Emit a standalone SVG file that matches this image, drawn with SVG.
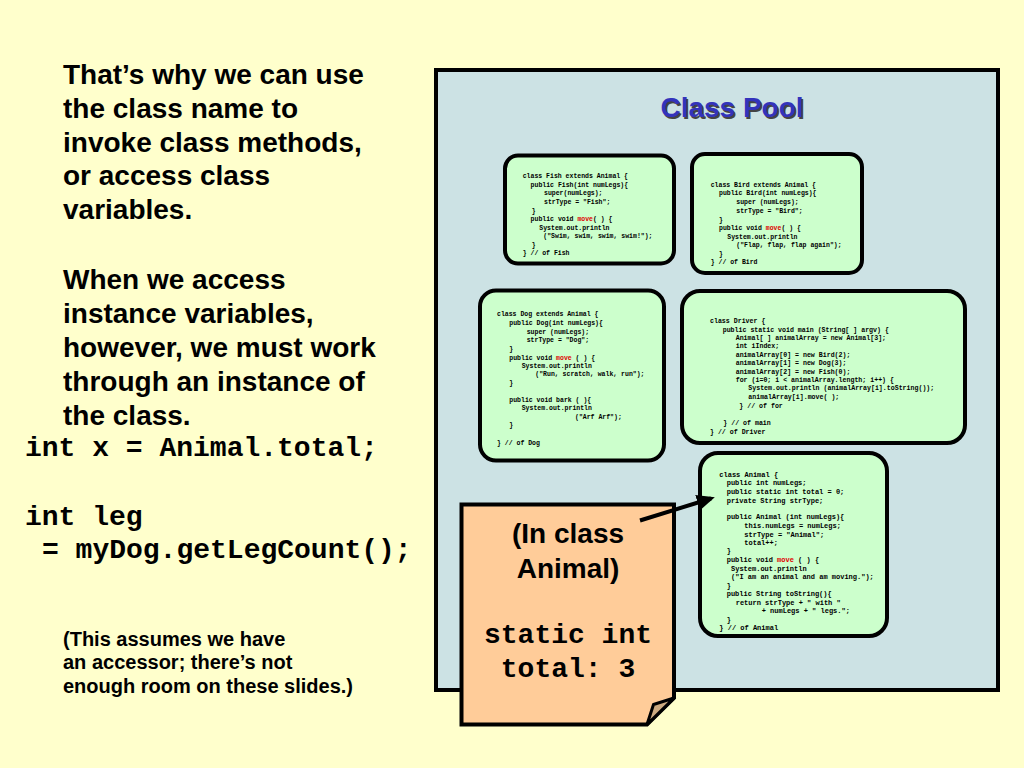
<svg xmlns="http://www.w3.org/2000/svg" width="1024" height="768" viewBox="0 0 1024 768">
<defs>
<style>
.t{font-family:"Liberation Sans",Arial,sans-serif;font-weight:bold;fill:#000}
.m{font-family:"Liberation Mono","Courier New",monospace;font-weight:bold;fill:#000}
.c{font-family:"Liberation Mono","Courier New",monospace;font-weight:bold;fill:#000}
.box{fill:#CCFFCC;stroke:#000;stroke-width:4}
.r{fill:#E00000}
</style>
<marker id="ah" markerWidth="4.5" markerHeight="4" refX="3.5" refY="2" orient="auto" markerUnits="strokeWidth">
<path d="M0,0 L4.5,2 L0,4 Z" fill="#000"/>
</marker>
</defs>
<rect x="0" y="0" width="1024" height="768" fill="#FFFFCC"/>

<g id="left-text">
<text class="t" font-size="28" x="63" y="84">That’s why we can use</text>
<text class="t" font-size="28" x="63" y="118">the class name to</text>
<text class="t" font-size="28" x="63" y="152">invoke class methods,</text>
<text class="t" font-size="28" x="63" y="185">or access class</text>
<text class="t" font-size="28" x="63" y="219">variables.</text>
<text class="t" font-size="28" x="63" y="289">When we access</text>
<text class="t" font-size="28" x="63" y="323">instance variables,</text>
<text class="t" font-size="28" x="63" y="357">however, we must work</text>
<text class="t" font-size="28" x="63" y="391">through an instance of</text>
<text class="t" font-size="28" x="63" y="425">the class.</text>
<text class="m" font-size="28" x="25" y="456">int x = Animal.total;</text>
<text class="m" font-size="28" x="25" y="525">int leg</text>
<text class="m" font-size="28" x="42" y="558">= myDog.getLegCount();</text>
<text class="t" font-size="20" x="63" y="646">(This assumes we have</text>
<text class="t" font-size="20" x="63" y="669">an accessor; there’s not</text>
<text class="t" font-size="20" x="63" y="693">enough room on these slides.)</text>
</g>

<g id="class-pool">
<rect x="436" y="70" width="562" height="620" fill="#CCE2E4" stroke="#000" stroke-width="4"/>
<text class="t" font-size="28" x="733.5" y="118.5" text-anchor="middle" style="fill:#444">Class Pool</text>
<text class="t" font-size="28" x="732" y="117" text-anchor="middle" style="fill:#3333BB">Class Pool</text>
</g>

<g id="fish">
<rect class="box" x="505" y="155.5" width="169" height="108" rx="13"/>
<g class="c" font-size="6.5" xml:space="preserve">
<text x="522.7" y="178.3">class Fish extends Animal {</text>
<text x="530.6" y="186.6">public Fish(int numLegs){</text>
<text x="544" y="195.3">super(numLegs);</text>
<text x="544" y="204">strType = "Fish";</text>
<text x="531.7" y="212.6">}</text>
<text x="530.6" y="221.3">public void <tspan class="r">move</tspan>( )  {</text>
<text x="539.3" y="230">System.out.println</text>
<text x="543.3" y="238.3">("Swim, swim, swim, swim!");</text>
<text x="531.7" y="247">}</text>
<text x="522.7" y="255.3">} // of Fish</text>
</g>
</g>

<g id="bird">
<rect class="box" x="692" y="154" width="170" height="119" rx="13"/>
<g class="c" font-size="6.5" xml:space="preserve">
<text x="710.7" y="186.6">class Bird extends Animal {</text>
<text x="719" y="195">public Bird(int numLegs){</text>
<text x="736.3" y="204">super (numLegs);</text>
<text x="736.3" y="212.6">strType = "Bird";</text>
<text x="719" y="221.6">}</text>
<text x="719" y="230">public void <tspan class="r">move</tspan>( ) {</text>
<text x="727.3" y="238.6">System.out.println</text>
<text x="736.3" y="247">("Flap, flap, flap again");</text>
<text x="719" y="255.6">}</text>
<text x="710.7" y="264">} // of Bird</text>
</g>
</g>

<g id="dog">
<rect class="box" x="480" y="290.5" width="184" height="170" rx="16"/>
<g class="c" font-size="6.5" xml:space="preserve">
<text x="497" y="316.3">class Dog extends Animal {</text>
<text x="509.3" y="324.6">public Dog(int numLegs){</text>
<text x="526.7" y="333.6">super (numLegs);</text>
<text x="526.7" y="342.3">strType = "Dog";</text>
<text x="509.3" y="351">}</text>
<text x="509.3" y="359.6">public void <tspan class="r">move</tspan> ( ) {</text>
<text x="521.7" y="368">System.out.println</text>
<text x="535.3" y="376.3">("Run, scratch, walk, run");</text>
<text x="509.3" y="385">}</text>
<text x="509.3" y="402">public void bark ( ){</text>
<text x="521.7" y="410.3">System.out.println</text>
<text x="575" y="419">("Arf Arf");</text>
<text x="509.3" y="427.3">}</text>
<text x="497" y="444.6">}  // of Dog</text>
</g>
</g>

<g id="driver">
<rect class="box" x="682" y="291" width="283" height="152" rx="18"/>
<g class="c" font-size="6.6" xml:space="preserve">
<text x="710" y="323">class Driver  {</text>
<text x="722.7" y="331.7">public static void main (String[ ] argv) {</text>
<text x="735.7" y="340.4">Animal[ ] animalArray = new Animal[3];</text>
<text x="735.7" y="348">int iIndex;</text>
<text x="735.7" y="356.7">animalArray[0] = new Bird(2);</text>
<text x="735.7" y="365.4">animalArray[1] = new Dog(3);</text>
<text x="735.7" y="373.7">animalArray[2] = new Fish(0);</text>
<text x="735.7" y="382">for (i=0; i &lt; animalArray.length;  i++) {</text>
<text x="748.3" y="390.4">System.out.println (animalArray[i].toString());</text>
<text x="748.3" y="399">animalArray[i].move( );</text>
<text x="739.3" y="407.7">} // of for</text>
<text x="723.3" y="425">} // of main</text>
<text x="710" y="433.7">} // of Driver</text>
</g>
</g>

<g id="animal">
<rect class="box" x="700" y="453" width="187" height="183" rx="18"/>
<g class="c" font-size="7" xml:space="preserve">
<text x="719.3" y="476.5">class Animal  {</text>
<text x="726.7" y="485.2">public int numLegs;</text>
<text x="726.7" y="493.8">public static int total = 0;</text>
<text x="726.7" y="502.5">private String strType;</text>
<text x="726.7" y="519.2">public Animal (int numLegs){</text>
<text x="744.3" y="527.8">this.numLegs = numLegs;</text>
<text x="744.3" y="536.5">strType = "Animal";</text>
<text x="744.3" y="545.2">total++;</text>
<text x="726.7" y="553.2">}</text>
<text x="726.7" y="561.8">public void <tspan class="r">move</tspan> ( ) {</text>
<text x="731" y="570.5">System.out.println</text>
<text x="731" y="579.2">("I am an animal and am moving.");</text>
<text x="726.7" y="587.5">}</text>
<text x="726.7" y="595.8">public String toString(){</text>
<text x="735.7" y="604.5">return strType + " with "</text>
<text x="761.7" y="613.2">+ numLegs + " legs.";</text>
<text x="726.7" y="621.5">}</text>
<text x="719.3" y="629.8">} // of Animal</text>
</g>
</g>

<g id="note">
<path d="M461.5,504.5 H674 V698 L647,724.5 H461.5 Z" fill="#FFCC99" stroke="#000" stroke-width="4" stroke-linejoin="miter"/>
<path d="M647,724.5 L653.5,704.5 L674,698 Z" fill="#CCAA80" stroke="#000" stroke-width="3" stroke-linejoin="round"/>
<text class="t" font-size="28" x="568" y="543" text-anchor="middle">(In class</text>
<text class="t" font-size="28" x="568" y="578" text-anchor="middle">Animal)</text>
<text class="m" font-size="28" x="568" y="643" text-anchor="middle">static int</text>
<text class="m" font-size="28" x="568" y="677" text-anchor="middle">total: 3</text>
</g>

<g id="connectors">
<line x1="640" y1="520.5" x2="711" y2="498.5" stroke="#000" stroke-width="4" marker-end="url(#ah)"/>
</g>
</svg>
